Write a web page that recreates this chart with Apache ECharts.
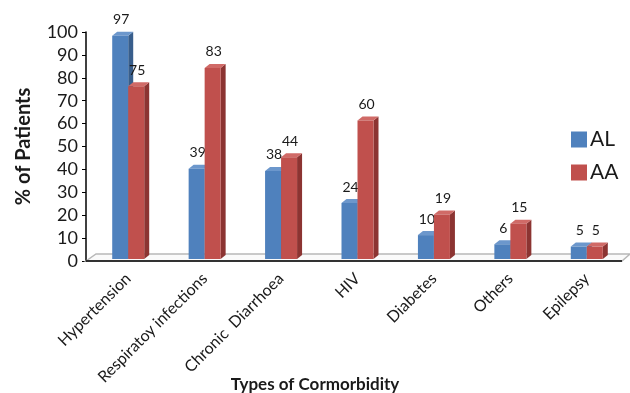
<!DOCTYPE html>
<html><head><meta charset="utf-8">
<script src="https://cdn.jsdelivr.net/npm/echarts@6/dist/echarts.min.js"></script>
<style>html,body{margin:0;padding:0;background:#fff}#c{width:630px;height:393px}</style>
</head><body><div id="c"></div>
<script>
const categories = ['Hypertension','Respiratoy infections','Chronic  Diarrhoea','HIV','Diabetes','Others','Epilepsy'];
const alValues = [97,39,38,24,10,6,5];
const aaValues = [75,83,44,60,19,15,5];
const yTicks = [0,10,20,30,40,50,60,70,80,90,100];

const FONT = 'Lato, "Open Sans", sans-serif';
const chart = echarts.init(document.getElementById('c'));

function bar3d(name, values, idx, front, side, topc) {
  return {
    type: 'custom', name: name, z: 3,
    itemStyle: { color: front },
    data: values.map((v, i) => [i, v]),
    renderItem: function (params, api) {
      const base = api.coord([api.value(0), 0]);
      const top = api.coord([api.value(0), api.value(1)]);
      const bw = 16, dx = 5, dy = 4, sx = 0, sy = -3;
      const x0 = base[0] + (idx === 0 ? -bw : 0) + sx;
      const x1 = x0 + bw;
      const yb = base[1] + sy + 1, yt = top[1] + sy;
      return { type: 'group', children: [
        { type: 'polygon', shape: { points: [[x1, yb], [x1 + dx, yb - dy], [x1 + dx, yt - dy], [x1, yt]] }, style: { fill: side } },
        { type: 'polygon', shape: { points: [[x0, yt], [x0 + dx, yt - dy], [x1 + dx, yt - dy], [x1, yt]] }, style: { fill: topc } },
        { type: 'rect', shape: { x: x0, y: yt, width: bw, height: yb - yt }, style: { fill: front } },
        { type: 'text', style: { text: String(api.value(1)), x: x0 + bw / 2 + 1, y: yt - 16, textAlign: 'center', textVerticalAlign: 'middle', font: '14px ' + FONT, fill: '#1a1a1a' } }
      ]};
    }
  };
}

const floor = {
  type: 'custom', z: 1, silent: true, legendHoverLink: false,
  data: [[0, 0]],
  renderItem: function (params, api) {
    const cs = params.coordSys;
    const yF = cs.y + cs.height, yB = yF - 7;
    const xl = cs.x - 4, xr = cs.x + cs.width - 3;
    return { type: 'group', children: [
      { type: 'polygon', shape: { points: [[xl, yF], [xl + 10, yB], [xr + 8, yB], [xr, yF]] },
        style: { fill: '#fafafa', stroke: '#b8b8b8', lineWidth: 1.5 } },
      { type: 'line', shape: { x1: xl, y1: yF, x2: xr, y2: yF }, style: { stroke: '#000', lineWidth: 1.5 } }
    ]};
  }
};

chart.setOption({
  animation: false,
  title: {
    text: 'Types of Cormorbidity', left: 'center', top: 371,
    textStyle: { fontFamily: FONT, fontSize: 17, fontWeight: 'bold', color: '#1a1a1a' }
  },
  grid: { left: 90, top: 32, width: 535, height: 229, containLabel: false, outerBoundsMode: 'none' },
  legend: {
    orient: 'vertical', left: 566, top: 124, itemWidth: 16, itemHeight: 16, itemGap: 12,
    icon: 'rect', data: ['AL', 'AA'],
    textStyle: { fontFamily: FONT, fontSize: 21, color: '#1a1a1a', padding: [0, 0, 0, -2] }
  },
  xAxis: {
    type: 'category', data: categories,
    axisLine: { show: false },
    axisTick: { show: false },
    axisLabel: { rotate: 45, margin: 15, interval: 0, fontFamily: FONT, fontSize: 16, color: '#1a1a1a' }
  },
  yAxis: {
    type: 'value', min: 0, max: 100, interval: 10, offset: 4,
    name: '% of Patients', nameLocation: 'middle', nameGap: 52, nameRotate: 90, nameMoveOverlap: false,
    nameTextStyle: { fontFamily: FONT, fontSize: 20, fontWeight: 'bold', color: '#1a1a1a' },
    axisLine: { show: true, lineStyle: { color: '#000', width: 1.5 } },
    axisTick: { show: true, length: 4, lineStyle: { color: '#000' } },
    splitLine: { show: false },
    axisLabel: { fontFamily: FONT, fontSize: 18, color: '#1a1a1a', margin: 8,
      formatter: v => yTicks.includes(v) ? String(v) : '' }
  },
  series: [
    floor,
    bar3d('AL', alValues, 0, '#4F81BD', '#385E8C', '#6C97CC'),
    bar3d('AA', aaValues, 1, '#C0504D', '#8C3432', '#D06A67')
  ]
});
</script></body></html>
